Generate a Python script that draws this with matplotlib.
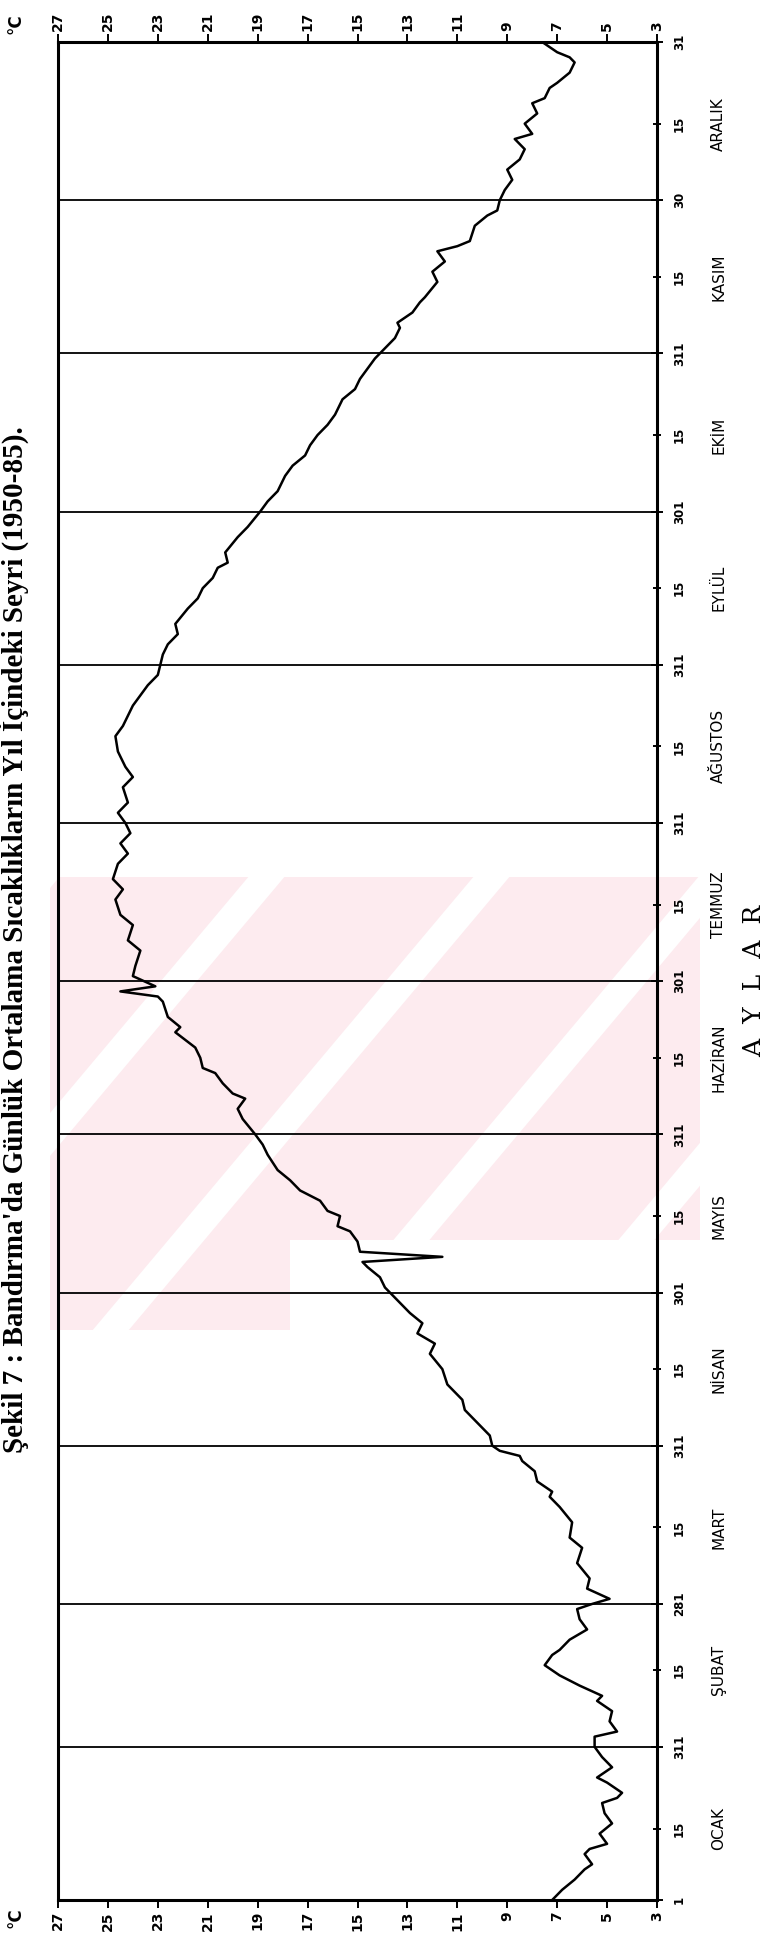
import matplotlib
matplotlib.use("Agg")
import matplotlib.pyplot as plt
from matplotlib import transforms
from matplotlib.patches import Polygon

# Daily mean temperature (°C), day of year
DAYS = [1, 3, 5, 7, 8, 10, 11, 12, 14, 16, 18, 20, 21, 22, 24, 25, 27, 29, 31,
        33, 34, 36, 38, 40, 41, 43, 45, 47, 49, 50, 52, 54, 56, 58, 59,
        60, 62, 64, 67, 70, 72, 75, 78, 80, 81, 83, 85, 87, 88, 89, 90,
        92, 94, 97, 99, 102, 105, 108, 110, 112, 114, 116, 118,
        121, 123, 125, 126, 127, 128, 130, 132, 133, 135, 136, 138, 140,
        142, 144, 147, 149, 151,
        154, 156, 158, 159, 161, 163, 164, 166, 168, 171, 172, 174, 177,
        178, 179, 180, 182,
        184, 187, 189, 192, 194, 197, 199, 201, 204, 206, 208, 210, 212,
        214, 216, 219, 221, 223, 226, 229, 231, 233, 235, 237, 239, 241, 243,
        245, 247, 249, 251, 254, 256, 258, 260, 262, 263, 265, 268, 270, 273,
        275, 277, 280, 282, 284, 286, 288, 290, 292, 295, 297, 299, 301, 303,
        305, 307, 309, 310, 312, 314, 315, 318, 320, 322, 324, 325, 326, 329,
        331, 332, 334,
        336, 338, 340, 342, 344, 346, 347, 349, 351, 353, 354, 356, 357, 359,
        361, 362, 363, 365]
TEMPS = [7.2, 6.8, 6.3, 5.9, 5.6, 5.9, 5.7, 5.0, 5.3, 4.8, 5.1, 5.2, 4.6, 4.4,
         5.0, 5.4, 4.8, 5.2, 5.5,
         5.5, 4.6, 4.9, 4.8, 5.4, 5.2, 6.1, 6.9, 7.5, 7.2, 6.9, 6.5, 5.8, 6.1,
         6.2, 5.6,
         4.9, 5.8, 5.7, 6.2, 6.0, 6.5, 6.4, 6.9, 7.3, 7.2, 7.8, 7.9, 8.4, 8.5,
         9.3, 9.6,
         9.7, 10.1, 10.7, 10.8, 11.4, 11.6, 12.1, 11.9, 12.6, 12.4, 12.9, 13.3,
         13.9, 14.1, 14.6, 14.8, 11.6, 14.9, 15.0, 15.3, 15.8, 15.7, 16.2,
         16.5, 17.3,
         17.7, 18.2, 18.6, 18.8, 19.1,
         19.6, 19.8, 19.5, 20.0, 20.4, 20.7, 21.2, 21.3, 21.5, 22.3, 22.1,
         22.6, 22.8,
         23.0, 24.5, 23.1, 24.0,
         23.9, 23.7, 24.2, 24.0, 24.5, 24.7, 24.4, 24.8, 24.6, 24.2, 24.5,
         24.1, 24.3,
         24.6, 24.2, 24.4, 24.0, 24.3, 24.6, 24.7, 24.4, 24.2, 24.0, 23.7,
         23.4, 23.0, 22.9,
         22.8, 22.6, 22.2, 22.3, 21.8, 21.4, 21.2, 20.8, 20.6, 20.2, 20.3,
         19.8, 19.4, 18.9,
         18.6, 18.2, 17.9, 17.6, 17.1, 16.9, 16.6, 16.2, 15.9, 15.6, 15.1,
         14.9, 14.6, 14.3,
         13.9, 13.5, 13.3, 13.4, 12.8, 12.5, 12.3, 11.8, 12.0, 11.5, 11.8,
         11.0, 10.5, 10.3,
         9.8, 9.4, 9.3,
         9.1, 8.8, 9.0, 8.5, 8.3, 8.7, 8.0, 8.3, 7.8, 8.0, 7.5, 7.3, 7.0, 6.5,
         6.3, 6.5, 7.0, 7.6]

TEMP_TICKS = [3, 5, 7, 9, 11, 13, 15, 17, 19, 21, 23, 25, 27]

# Day axis: month boundaries carry the "end | start" labels of the scan
EDGE_DAYS = [1, 31, 59, 90, 120, 151, 181, 212, 243, 273, 304, 334, 365]
EDGE_LABELS = ["1", "311", "281", "311", "301", "311", "301", "311", "311",
               "301", "311", "30", "31"]
MONTH_LINES = [31, 59, 90, 120, 151, 181, 212, 243, 273, 304, 334]
MID_DAYS = [15, 46, 74, 105, 135, 166, 196, 227, 258, 288, 319, 349]
MONTHS = ["OCAK", "ŞUBAT", "MART", "NİSAN", "MAYIS", "HAZİRAN", "TEMMUZ",
          "AĞUSTOS", "EYLÜL", "EKİM", "KASIM", "ARALIK"]

TITLE = ("Şekil 7 : Bandırma'da Günlük Ortalama Sıcaklıkların "
         "Yıl İçindeki Seyri (1950-85).")

W, H = 771, 1959
fig = plt.figure(figsize=(W / 100, H / 100), dpi=100)

# faint pink thesis watermark behind the chart (pixel space, y down)
bg = fig.add_axes([0, 0, 1, 1], zorder=-5)
bg.set_xlim(0, W)
bg.set_ylim(H, 0)
bg.axis("off")
mark = Polygon([(50, 877), (700, 877), (700, 1240), (290, 1240),
                (290, 1330), (50, 1330)],
               closed=True, facecolor="#fdebef", edgecolor="none")
bg.add_patch(mark)
slope = 0.84
for u in range(760, 1800, 225):
    gap = Polygon([(u - slope * 850, 850), (u + 36 - slope * 850, 850),
                   (u + 36 - slope * 1350, 1350), (u - slope * 1350, 1350)],
                  closed=True, facecolor="white", edgecolor="none")
    bg.add_patch(gap)
    gap.set_clip_path(mark)

# axes box in pixels of the scan: left 58, right 657, top 42, bottom 1900
ax = fig.add_axes([58 / W, (H - 1900) / H, 599 / W, 1858 / H])
ax.set_facecolor("none")
ax.plot(TEMPS, DAYS, color="black", lw=1.8, solid_joinstyle="round")

for d in MONTH_LINES:
    ax.axhline(d, color="black", lw=1.3, zorder=1)

ax.set_xlim(27, 3)
ax.set_ylim(1, 365)

for s in ax.spines.values():
    s.set_linewidth(2.2)

# temperature axis, drawn top and bottom, labels turned with the page
ax.set_xticks(TEMP_TICKS)
ax.set_xticklabels([str(t) for t in TEMP_TICKS])
ax.tick_params(axis="x", top=True, bottom=True, labeltop=True,
               labelbottom=True, direction="out", length=6, width=1.4,
               labelsize=10, pad=2)
for t in ax.xaxis.get_major_ticks():
    for lab in (t.label1, t.label2):
        lab.set_rotation(90)
        lab.set_fontweight("bold")

# day axis on the right
ax.yaxis.tick_right()
ax.set_yticks(EDGE_DAYS)
ax.set_yticklabels(EDGE_LABELS)
ax.set_yticks(MID_DAYS, minor=True)
ax.set_yticklabels(["15"] * len(MID_DAYS), minor=True)
ax.tick_params(axis="y", which="major", direction="inout", length=9,
               width=1.4, labelsize=8.5, pad=7)
ax.tick_params(axis="y", which="minor", direction="inout", length=6,
               width=1.4, labelsize=8.5, pad=8.5)
for lab in ax.get_yticklabels(which="both"):
    lab.set_rotation(90)
    lab.set_va("center")
    lab.set_fontweight("bold")

side = transforms.blended_transform_factory(ax.transAxes, ax.transData)
for d, name in zip(MID_DAYS, MONTHS):
    ax.text(1.103, d, name, transform=side, rotation=90, ha="center",
            va="center", fontsize=11, clip_on=False)

ax.text(1.163, 181, "A  Y  L  A  R", transform=side, rotation=90,
        ha="center", va="center", fontsize=18, family="DejaVu Serif",
        clip_on=False)

fig.text(16 / W, 1 - 24 / H, "°C", rotation=90, ha="center", va="center",
         fontsize=12, fontweight="bold")
fig.text(16 / W, 1 - 1918 / H, "°C", rotation=90, ha="center", va="center",
         fontsize=12, fontweight="bold")

# caption of the scan along the left page edge
fig.text(29 / W, 1 - 940 / H, TITLE, rotation=90, ha="right", va="center",
         fontsize=21, fontweight="bold", family="Liberation Serif")

fig.savefig("out.png", dpi=100)
